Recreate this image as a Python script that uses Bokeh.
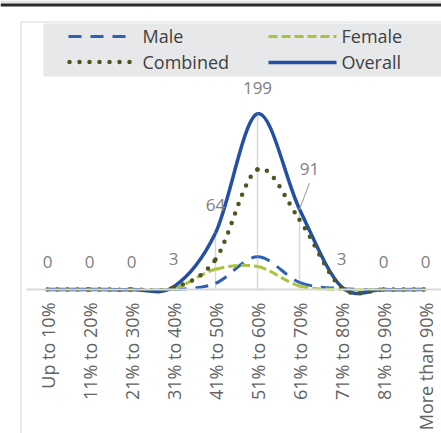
import math
from bokeh.plotting import figure
from bokeh.models import Range1d, FixedTicker, ColumnDataSource
from bokeh.embed import file_html
from bokeh.resources import INLINE
from bokeh.core.properties import value

# ---------------- data ----------------
categories = ["Up to 10%", "11% to 20%", "21% to 30%", "31% to 40%", "41% to 50%",
              "51% to 60%", "61% to 70%", "71% to 80%", "81% to 90%", "More than 90%"]
male     = [0, 0, 0, 0, 7, 37, 8, 1, 0, 0]
female   = [0, 0, 0, 1, 23, 26, 4, 0, 0, 0]
combined = [0, 0, 0, 2, 34, 136, 79, 2, 0, 0]
overall  = [0, 0, 0, 3, 64, 199, 91, 3, 0, 0]
series_names = ["Male", "Female", "Combined", "Overall"]

# ---------------- layout ----------------
W, H = 441, 433
FW, FH = W, H
PX_PER_CAT = 42.0
FIRST_PX = 47.0
PX_PER_UNIT = 0.883
ZERO_PX = 289.0  # pixel row of value 0 (from top)

x_start = -FIRST_PX / PX_PER_CAT
x_end = x_start + FW / PX_PER_CAT
y_end = ZERO_PX / PX_PER_UNIT
y_start = -(FH - ZERO_PX) / PX_PER_UNIT

FONT = "Open Sans"

p = figure(width=W, height=H, output_backend="svg", toolbar_location=None,
           x_range=Range1d(x_start, x_end), y_range=Range1d(y_start, y_end),
           min_border_left=0, min_border_top=0, min_border_right=0,
           min_border_bottom=0)
p.outline_line_color = None
p.background_fill_color = "white"
p.border_fill_color = "white"
p.grid.visible = False
p.yaxis.visible = False

# pixel ranges for decoration (pixels, y downward)
p.extra_x_ranges = {"px": Range1d(0, FW)}
p.extra_y_ranges = {"px": Range1d(FH, 0)}

xs = list(range(len(categories)))

# x axis placed at value 0 inside the frame
ax = p.xaxis[0]
ax.fixed_location = 0
ax.ticker = FixedTicker(ticks=xs)
ax.major_label_overrides = {i: c for i, c in zip(xs, categories)}
ax.major_label_orientation = math.pi / 2
ax.major_label_text_font = FONT
ax.major_label_text_font_size = "18px"
ax.major_label_text_color = "#636363"
ax.major_label_standoff = 13
ax.major_tick_line_color = None
ax.minor_tick_line_color = None
ax.major_tick_out = 0
ax.major_tick_in = 0
ax.axis_line_color = "#D9D9D9"
ax.axis_line_width = 2
ax.bounds = (-0.5, 9.5)

# cropped page header strip
p.quad(left=[0], right=[FW], top=[0], bottom=[3], x_range_name="px",
       y_range_name="px", fill_color="#E4E4E4", line_color=None)
p.quad(left=[0], right=[FW], top=[3], bottom=[6], x_range_name="px",
       y_range_name="px", fill_color="#2B2B2B", line_color=None)

# chart-area border (left and top)
p.line(x=[20.5, 20.5], y=[21.5, FH], x_range_name="px", y_range_name="px",
       line_color="#D9D9D9", line_width=1.2)
p.line(x=[20.5, FW], y=[21.5, 21.5], x_range_name="px", y_range_name="px",
       line_color="#D9D9D9", line_width=1.2)

# drop lines
p.segment(x0=xs, y0=overall, x1=xs, y1=[0] * len(xs),
          line_color="#D9D9D9", line_width=1.5)


def bezier_source(vals):
    n = len(vals)
    d = dict(x0=[], y0=[], x1=[], y1=[], cx0=[], cy0=[], cx1=[], cy1=[])
    for i in range(n - 1):
        a, b = max(i - 1, 0), min(i + 2, n - 1)
        d["x0"].append(xs[i]); d["y0"].append(vals[i])
        d["x1"].append(xs[i + 1]); d["y1"].append(vals[i + 1])
        d["cx0"].append(xs[i] + (xs[i + 1] - xs[a]) / 6.0)
        d["cy0"].append(vals[i] + (vals[i + 1] - vals[a]) / 6.0)
        d["cx1"].append(xs[i + 1] - (xs[b] - xs[i]) / 6.0)
        d["cy1"].append(vals[i + 1] - (vals[b] - vals[i]) / 6.0)
    return ColumnDataSource(d)


styles = {
    "Male": dict(line_color="#2F60B4", line_width=3, line_dash="13 9"),
    "Female": dict(line_color="#A9C23F", line_width=3, line_dash="9 4"),
    "Combined": dict(line_color="#4B571F", line_width=4.5, line_dash="0 10",
                     line_cap="round"),
    "Overall": dict(line_color="#2450A4", line_width=3.5),
}
data = {"Male": male, "Female": female, "Combined": combined, "Overall": overall}

for name in ["Male", "Female", "Overall", "Combined"]:
    p.bezier(x0="x0", y0="y0", x1="x1", y1="y1", cx0="cx0", cy0="cy0",
             cx1="cx1", cy1="cy1", source=bezier_source(data[name]), **styles[name])

# leader line for the moved "91" label
lead_i = 6
p.segment(x0=[xs[lead_i]], y0=[overall[lead_i]],
          x1=[xs[lead_i] + 10 / PX_PER_CAT], y1=[overall[lead_i] + 26 / PX_PER_UNIT],
          line_color="#A6A6A6", line_width=1.2)

# data labels for Overall
x_off = [0] * len(xs)
y_off = [-28] * len(xs)
y_off[5] = -26
x_off[lead_i] = 10
y_off[lead_i] = -40
lab = ColumnDataSource(dict(x=xs, y=overall, t=[str(v) for v in overall],
                            xo=x_off, yo=y_off))
p.text(x="x", y="y", text="t", source=lab, x_offset="xo", y_offset="yo",
       text_align="center", text_baseline="middle",
       text_font=value(FONT), text_font_size="17px", text_color="#808080")

# legend (drawn in pixels)
p.quad(left=[43], right=[FW + 5], top=[23], bottom=[76],
       x_range_name="px", y_range_name="px",
       fill_color="#E7E8EA", line_color=None)
leg = {
    "Male": ([68, 125], 36, 142, 35.5),
    "Female": ([268, 336], 36, 341, 35.5),
    "Combined": ([69, 131], 61.5, 142, 61.5),
    "Overall": ([268, 336], 62, 341, 61.5),
}
for name in series_names:
    lx, ly, tx, ty = leg[name]
    p.line(x=lx, y=[ly, ly], x_range_name="px", y_range_name="px", **styles[name])
    p.text(x=[tx], y=[ty], text=[name], x_range_name="px", y_range_name="px",
           text_align="left", text_baseline="middle",
           text_font=value(FONT), text_font_size="18px", text_color="#404040")

open("out.html", "w").write(file_html(p, INLINE))
